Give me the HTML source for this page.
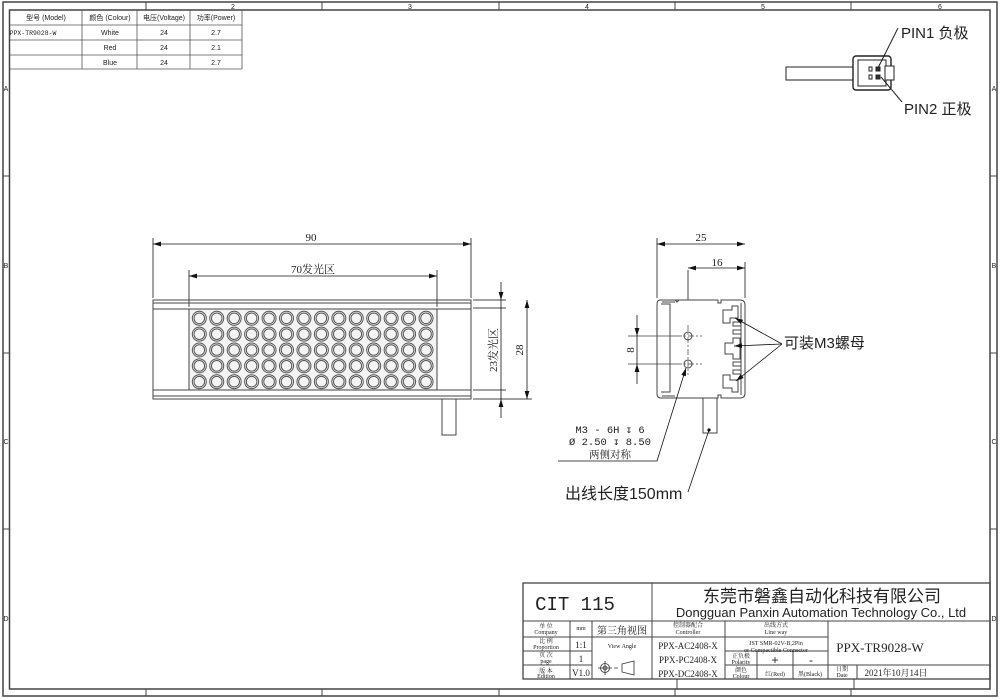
<!DOCTYPE html>
<html><head><meta charset="utf-8"><style>
html,body{margin:0;padding:0;background:#fff;}
svg{display:block;}
text{font-family:"Liberation Sans","Noto Sans CJK SC",sans-serif;fill:#222;}
.s,.s text{font-family:"Liberation Serif","Noto Serif CJK SC",serif;}
.m,.m text{font-family:"Liberation Mono","Noto Sans CJK SC",monospace;}
</style></head><body>
<svg width="1000" height="700" viewBox="0 0 1000 700" xmlns="http://www.w3.org/2000/svg">
<defs>
<marker id="a" viewBox="0 0 10 6" refX="10" refY="3" markerWidth="8" markerHeight="5" orient="auto-start-reverse" markerUnits="userSpaceOnUse"><path d="M0,0L10,3L0,6z" fill="#111"/></marker>
</defs>
<g fill="none" stroke="#444" stroke-width="1">
<rect x="3" y="2" width="994" height="694" stroke-width="1.5"/>
<rect x="9.5" y="10" width="980.5" height="679" stroke-width="1.5"/>
<path d="M146,2V10M322,2V10M499,2V10M675,2V10M851,2V10M146,689V696M322,689V696M499,689V696M675,689V696M851,689V696M3,176H9M3,353H9M3,529H9M990,176H997M990,353H997M990,529H997"/>
</g>
<g font-size="7" text-anchor="middle">
<text x="233" y="9">2</text><text x="410" y="9">3</text><text x="587" y="9">4</text><text x="763" y="9">5</text><text x="940" y="9">6</text>
<text x="6" y="91">A</text><text x="6" y="268">B</text><text x="6" y="444">C</text><text x="6" y="621">D</text>
<text x="994" y="91">A</text><text x="994" y="268">B</text><text x="994" y="444">C</text><text x="994" y="621">D</text>
</g>
<g fill="none" stroke="#555" stroke-width="0.8">
<path d="M10,25H242M10,40H242M10,55H242M10,69H242M82,10V69M137,10V69M190,10V69M242,10V69"/>
</g>
<g font-size="7" text-anchor="middle">
<text x="46" y="20">型号 (Model)</text><text x="110" y="20">颜色 (Colour)</text><text x="164" y="20">电压(Voltage)</text><text x="216" y="20">功率(Power)</text>
<text x="33" y="35" class="m" font-size="6.5">PPX-TR9028-W</text><text x="110" y="35">White</text><text x="164" y="35">24</text><text x="216" y="35">2.7</text>
<text x="110" y="50">Red</text><text x="164" y="50">24</text><text x="216" y="50">2.1</text>
<text x="110" y="65">Blue</text><text x="164" y="65">24</text><text x="216" y="65">2.7</text>
</g>
<g fill="#fff" stroke="#222" stroke-width="1">
<rect x="786" y="67" width="68" height="13"/>
<rect x="853" y="56" width="38" height="34" rx="3" stroke-width="1.4"/>
<rect x="858" y="60" width="28" height="26"/>
<rect x="885" y="66" width="9" height="14"/>
<rect x="869" y="67" width="3" height="4"/><rect x="869" y="75" width="3" height="4"/>
<rect x="876" y="67" width="4" height="4" fill="#333"/><rect x="876" y="75" width="4" height="4" fill="#333"/>
</g>
<path d="M878,68L898,28M881,77L902,102" stroke="#222" fill="none"/>
<text x="901" y="38" font-size="15">PIN1 负极</text>
<text x="904" y="114" font-size="15">PIN2 正极</text>
<g fill="none" stroke="#444" stroke-width="1">
<rect x="153" y="300" width="318" height="99"/>
<path d="M153,303H471M153,309H471M153,390H471M153,396H471"/>
<rect x="189" y="309" width="248" height="81" fill="#f4f4f4"/>
<rect x="442" y="399" width="14" height="36"/>
<path d="M153,298V238M471,298V238M189,307V270M437,307V270M473,300H506M473,308H506M473,390H506M473,399H532"/>
</g>
<g id="leds" fill="none" stroke="#555" stroke-width="1"></g>
<g stroke="#111" stroke-width="0.8" fill="none">
<line x1="153" y1="244" x2="471" y2="244" marker-start="url(#a)" marker-end="url(#a)"/>
<line x1="189" y1="276" x2="437" y2="276" marker-start="url(#a)" marker-end="url(#a)"/>
<line x1="501" y1="282" x2="501" y2="300" marker-end="url(#a)"/>
<line x1="501" y1="418" x2="501" y2="399" marker-end="url(#a)"/>
<line x1="501" y1="300" x2="501" y2="399"/>
<line x1="527" y1="300" x2="527" y2="399" marker-start="url(#a)" marker-end="url(#a)"/>
</g>
<text x="311" y="241" font-size="11" text-anchor="middle" class="s">90</text>
<text x="313" y="273" font-size="11" text-anchor="middle" class="s">70发光区</text>
<text transform="translate(497,350) rotate(-90)" font-size="11" text-anchor="middle" class="s">23发光区</text>
<text transform="translate(523,350) rotate(-90)" font-size="11" text-anchor="middle" class="s">28</text>
<g fill="none" stroke="#444" stroke-width="1">
<path d="M660,300H675L677,302L679,300H718M718,300V303H721V300H740Q745,300,745,305V393Q745,398,740,398H721V395H718V398H661Q657,398,657,394V304Q657,300,660,300Z"/>
<path d="M661,304H670V392H661M662,302H675M662,396H675"/>
<path d="M723,310H732V306H738V318H730V323H723ZM723,388H732V392H738V380H730V375H723ZM725,343H733V338H740V359H733V354H725Z"/>
<path d="M741,322H733V326H741M741,330H733V334H741M741,362H733V366H741M741,370H733V374H741M741,303V395"/>
<rect x="703" y="398" width="14" height="35"/>
<path d="M657,298V238M745,298V262M688,300V270"/>
<circle cx="688" cy="336" r="4"/><circle cx="688" cy="364" r="4"/>
</g>
<g stroke="#444" stroke-width="0.7" fill="none" stroke-dasharray="6,2,2,2">
<path d="M688,325V375M676,336H702M676,364H702"/>
</g>
<g stroke="#444" stroke-width="0.7" fill="none"><path d="M628,336H676M628,364H676"/></g>
<g stroke="#111" stroke-width="0.8" fill="none">
<line x1="657" y1="244" x2="745" y2="244" marker-start="url(#a)" marker-end="url(#a)"/>
<line x1="688" y1="268" x2="745" y2="268" marker-start="url(#a)" marker-end="url(#a)"/>
<line x1="637" y1="315" x2="637" y2="336" marker-end="url(#a)"/>
<line x1="637" y1="384" x2="637" y2="364" marker-end="url(#a)"/>
<line x1="637" y1="336" x2="637" y2="364"/>
<line x1="782" y1="344" x2="735" y2="318" marker-end="url(#a)"/>
<line x1="782" y1="344" x2="734" y2="346" marker-end="url(#a)"/>
<line x1="782" y1="344" x2="736" y2="381" marker-end="url(#a)"/>
<path d="M558,461H657L686,368" marker-end="url(#a)"/>
<path d="M688,492L709,430"/>
</g>
<circle cx="709" cy="430" r="1.6" fill="#111"/>
<text x="701" y="241" font-size="11" text-anchor="middle" class="s">25</text>
<text x="717" y="266" font-size="11" text-anchor="middle" class="s">16</text>
<text transform="translate(634,350) rotate(-90)" font-size="11" text-anchor="middle" class="s">8</text>
<text x="784" y="348" font-size="15">可装M3螺母</text>
<g font-size="10.5" text-anchor="middle">
<text x="610" y="433" class="m">M3 - 6H ↧ 6</text>
<text x="610" y="445" class="m">Ø 2.50 ↧ 8.50</text>
<text x="610" y="458" class="s">两侧对称</text>
</g>
<text x="565" y="499" font-size="16">出线长度150mm</text>
<g fill="none" stroke="#444" stroke-width="1">
<rect x="523" y="583" width="467" height="96" stroke-width="1.3"/>
<path d="M523,621H990M652,583V679M523,637H652M523,651H592M523,665H592M570,621V679M592,621V679M652,637H828M725,621V679M828,621V679M725,651H828M725,665H828M757,651V679M793,651V679M828,665H990M857,665V679M677,679V689M854,679V689"/>
</g>
<text x="575" y="610" font-size="19" class="m" text-anchor="middle">CIT 115</text>
<text x="822" y="602" font-size="17" text-anchor="middle">东莞市磐鑫自动化科技有限公司</text>
<text x="821" y="617" font-size="13" text-anchor="middle">Dongguan Panxin Automation Technology Co., Ltd</text>
<g font-size="6" text-anchor="middle" class="s">
<text x="546" y="628">单 位</text><text x="546" y="634">Company</text>
<text x="546" y="643">比 例</text><text x="546" y="649">Proportion</text>
<text x="546" y="657">页 次</text><text x="546" y="663">page</text>
<text x="546" y="673">版 本</text><text x="546" y="678">Edition</text>
<text x="688" y="627">控制器配合</text><text x="688" y="634">Controller</text>
<text x="776" y="627">出线方式</text><text x="776" y="634">Line way</text>
<text x="776" y="645">JST SMR-02V-B,2Pin</text><text x="776" y="652">or Compactible Connector</text>
<text x="741" y="658">正负极</text><text x="741" y="664">Polarity</text>
<text x="741" y="672">颜色</text><text x="741" y="678">Colour</text>
<text x="775" y="676">红(Red)</text><text x="810" y="676">黑(Black)</text>
<text x="842" y="671">日期</text><text x="842" y="677">Date</text>
<text x="581" y="630">mm</text>
<text x="622" y="648">View Angle</text>
</g>
<g font-size="9" text-anchor="middle" class="s">
<text x="581" y="648">1:1</text><text x="581" y="662">1</text><text x="581" y="676">V1.0</text>
<text x="688" y="649">PPX-AC2408-X</text><text x="688" y="663">PPX-PC2408-X</text><text x="688" y="677">PPX-DC2408-X</text>
<text x="896" y="676">2021年10月14日</text>
</g>
<text x="622" y="634" font-size="10" text-anchor="middle" class="s">第三角视图</text>
<text x="775" y="664" font-size="12" text-anchor="middle">+</text>
<text x="811" y="664" font-size="12" text-anchor="middle">-</text>
<text x="880" y="652" font-size="13" text-anchor="middle" class="s">PPX-TR9028-W</text>
<g fill="none" stroke="#333" stroke-width="0.8">
<circle cx="605" cy="668" r="4.5"/><circle cx="605" cy="668" r="2"/>
<path d="M598,668H612M605,661V675M614,668H618M622,664L634,661V675L622,672Z"/>
</g>
<script>
var g=document.getElementById('leds'),ns='http://www.w3.org/2000/svg';
for(var i=0;i<14;i++)for(var j=0;j<5;j++){
 var cx=199.3+i*17.44,cy=318.3+j*15.85;
 [7,5.3].forEach(function(r){var c=document.createElementNS(ns,'circle');c.setAttribute('cx',cx);c.setAttribute('cy',cy);c.setAttribute('r',r);g.appendChild(c);});
}
</script>
</svg>
</body></html>
